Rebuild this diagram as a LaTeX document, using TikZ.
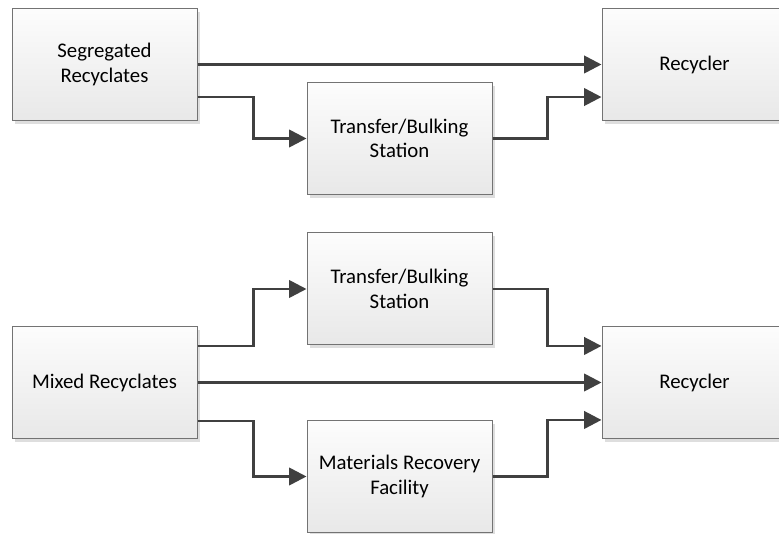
\documentclass[tikz,border=0pt]{standalone}
\usepackage{fontspec}
\setmainfont{Carlito}
\usetikzlibrary{arrows.meta, shadows, positioning}
\tikzstyle{blk}=[draw=black!55,line width=.75pt,top color=black!1,bottom color=black!9,minimum width=138.75pt,minimum height=84pt,align=center,font=\fontsize{15.6}{18.3}\selectfont,drop shadow={shadow xshift=2.5pt,shadow yshift=-2.5pt,fill=black!13,opacity=1}]
\tikzstyle{flow}=[draw=black!75,line width=2pt,-{Triangle[length=13pt,width=13pt]}]
\tikzstyle{px}=[x=.75pt,y=-.75pt]

\begin{document}
\begin{tikzpicture}[px]
                    \useasboundingbox (0,0) rectangle (779,534);
                    \foreach \n/\xs/\ys/\t in {seg/104.5/64.5/{Segregated\\Recyclates}, tbA/399.5/138.5/{Transfer/Bulking\\Station}, recA/694.5/64.5/Recycler, tbB/399.5/289/{Transfer/Bulking\\Station}, mix/104.5/382.5/Mixed Recyclates, recB/694.5/382.5/Recycler, mrf/399.5/476.5/{Materials Recovery\\Facility}}
                        \node[blk] (\n) at (\xs,\ys) {\t};
                    \draw[flow] (seg.east) -- (recA.west);
                    \draw[flow] ([yshift=-24.4pt]seg.east) -- ++(56,0) |- (tbA.west);
                    \draw[flow] (tbA.east) -- ++(55,0) |- ([yshift=-24.4pt]recA.west);
                    \draw[flow] (mix.east) -- (recB.west);
                    \foreach \src/\dst/\sa/\da in {tbB/tbB/27.4pt/27.4pt, mrf/mrf/-28.9pt/-28.1pt} {
                        \draw[flow] ([yshift=\sa]mix.east) -- ++(56,0) |- (\src.west);
                        \draw[flow] (\dst.east) -- ++(55,0) |- ([yshift=\da]recB.west);}
                \end{tikzpicture}
\end{document}
